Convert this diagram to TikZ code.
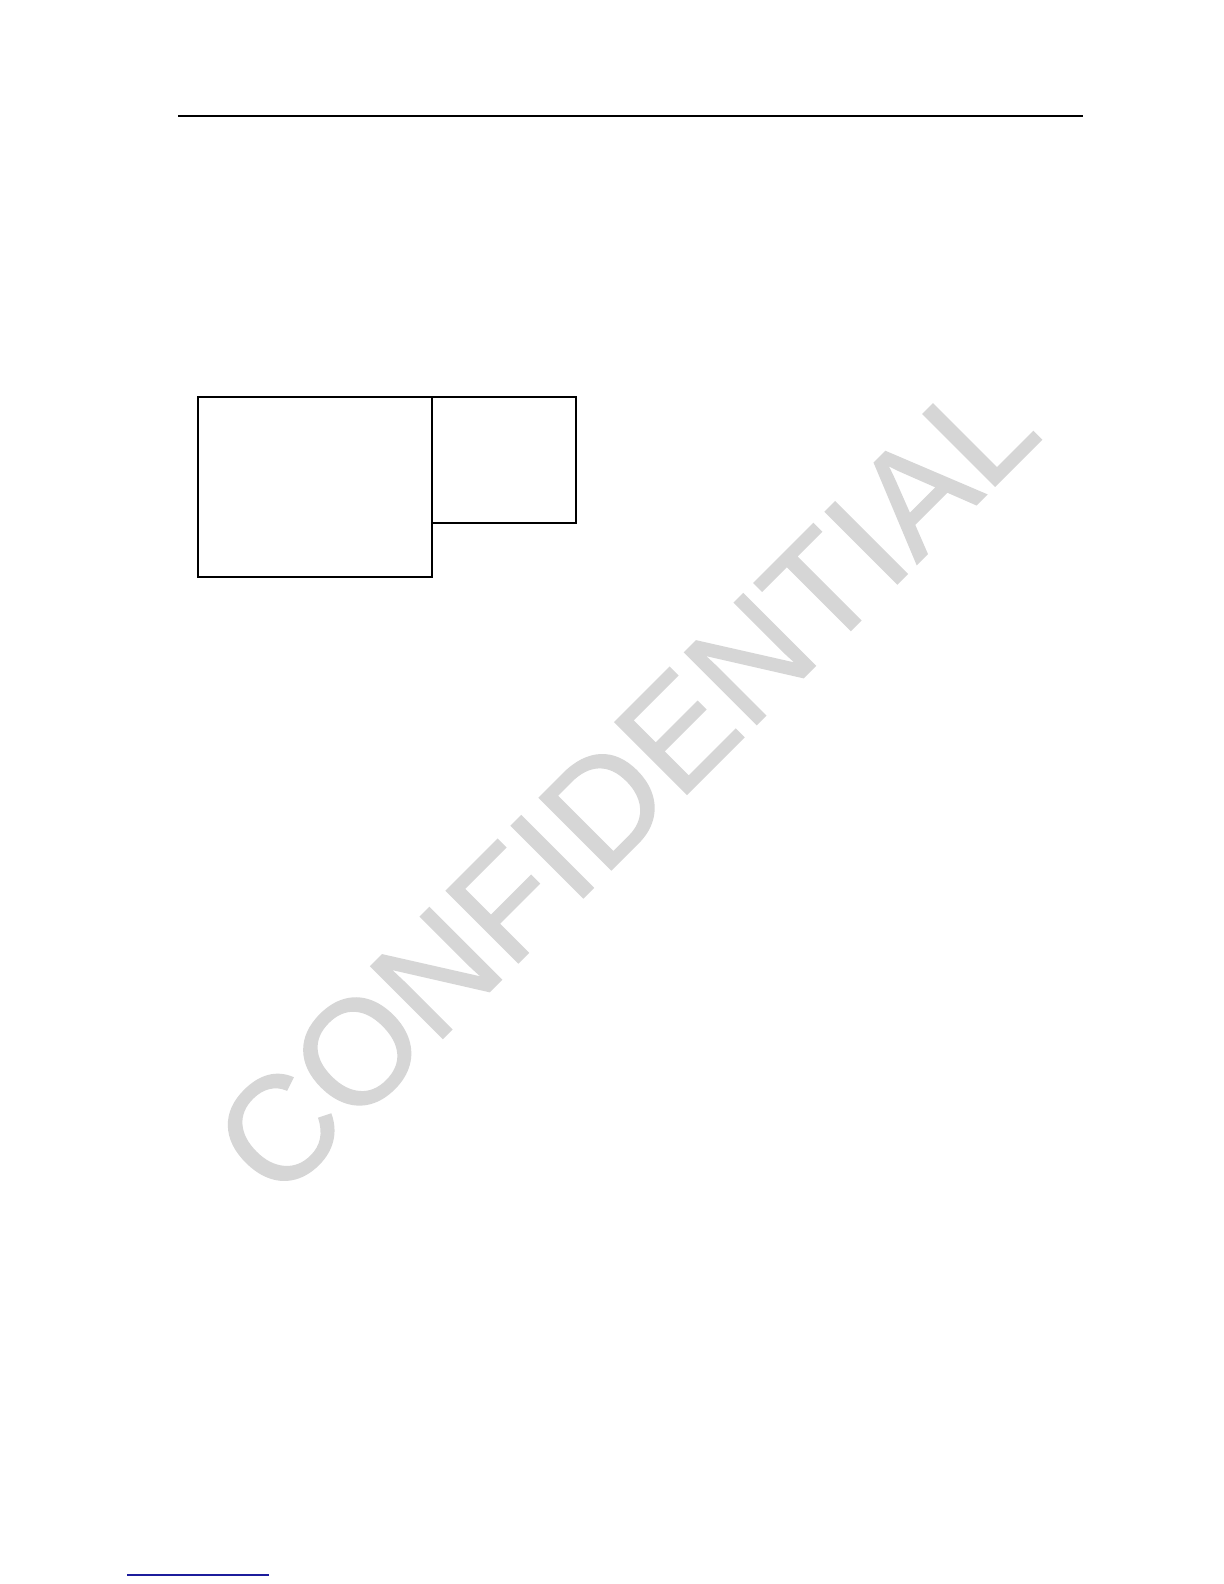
\documentclass[tikz,border=0pt]{standalone}
\usepackage{fontspec}
\newfontfamily\wmfont{Liberation Sans}[FakeBold=1]
\definecolor{footblue}{HTML}{1C1C9C}
\tikzset{
  framebox/.style={draw=black, line width=0.9pt, fill=none, inner sep=0pt, rectangle},
  rulestyle/.style={line width=0.65pt, black},
  watermark/.style={font=\wmfont\fontsize{74}{74}\selectfont, text=black!16, inner sep=0pt}
}
\begin{document}
\begin{tikzpicture}[x=0.5pt, y=-0.5pt]
\useasboundingbox[fill=white] (0,0) rectangle (1224,1584);
% watermark
\node[watermark, rotate=45] (wm) at (625,784) {CONFIDENTIAL};
% header rule
\coordinate (h1) at (178,116);
\coordinate (h2) at (1083,116);
\draw[rulestyle] (h1) -- (h2);
% boxes
\node[framebox, minimum width=117pt, minimum height=90pt] (left) at (315,487) {};
\node[framebox, minimum width=72pt, minimum height=63pt] (right) at (504,460) {};
% footer link rule
\coordinate (f1) at (127,1575);
\coordinate (f2) at (269,1575);
\draw[line width=0.6pt, footblue] (f1) -- (f2);
\end{tikzpicture}
\end{document}
